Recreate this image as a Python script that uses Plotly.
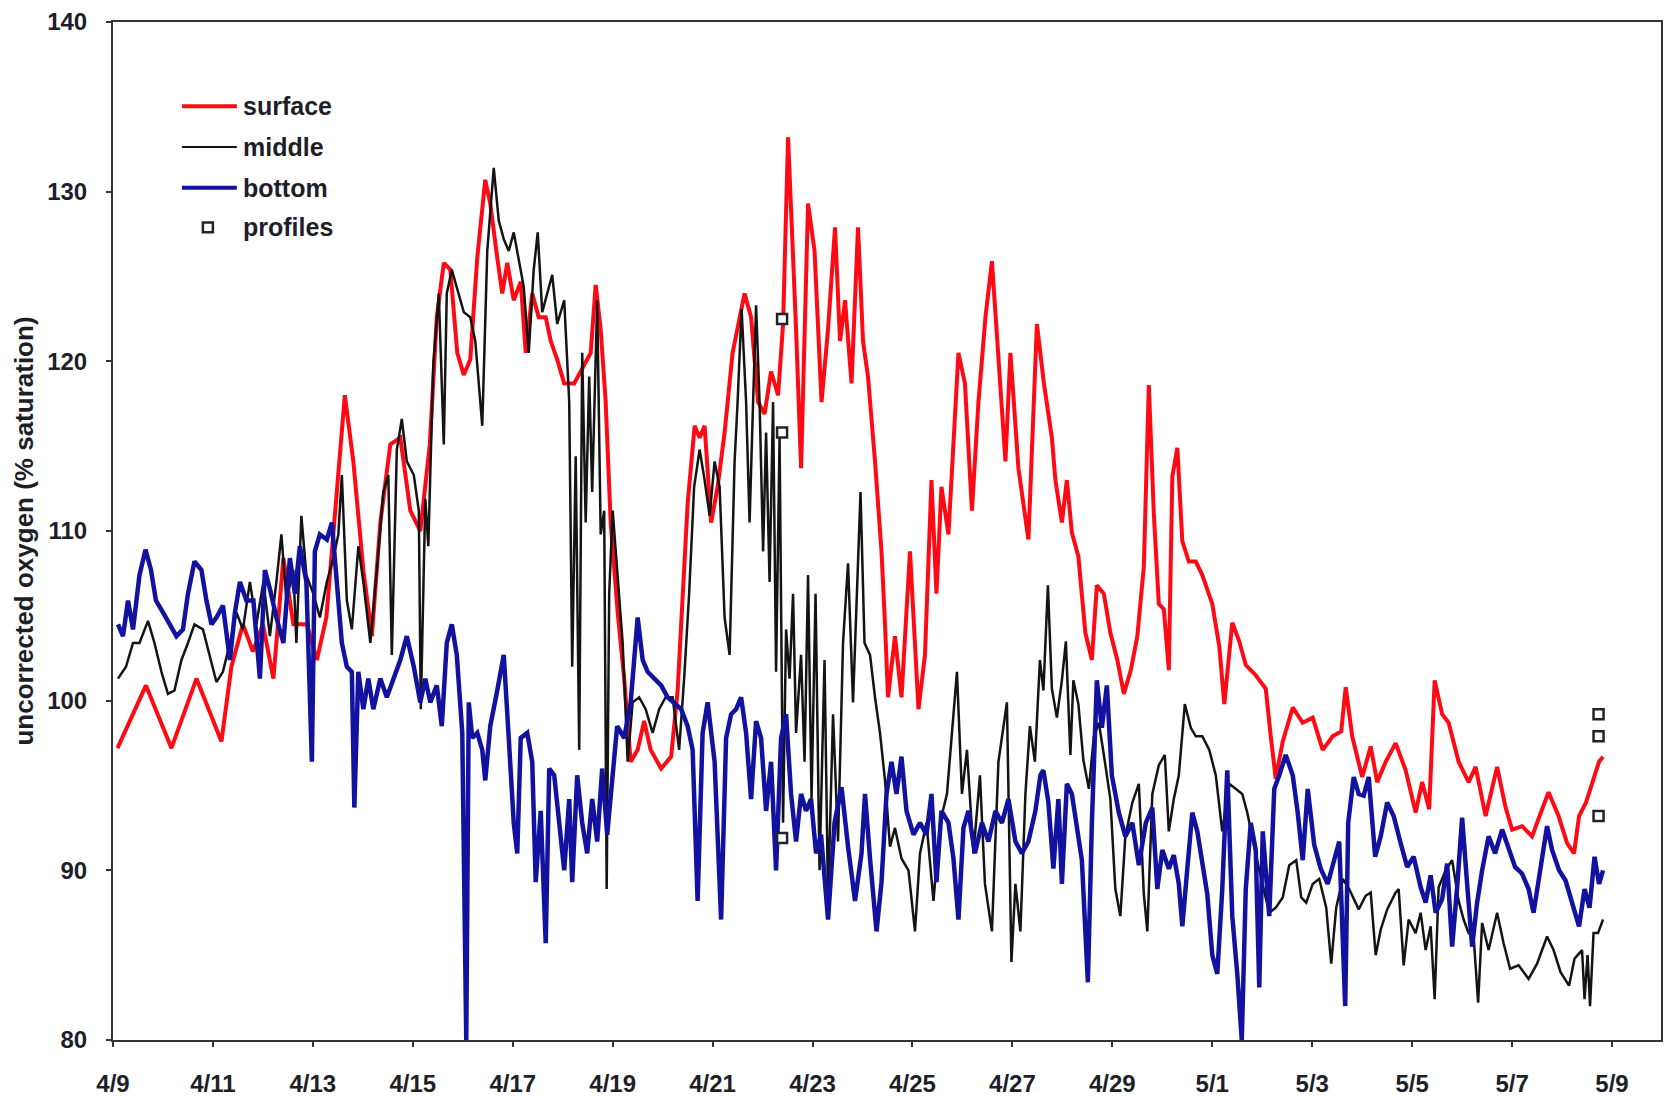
import pandas as pd
import plotly.graph_objects as go

# Time is given in days elapsed since 4/9 00:00; values are % saturation.
surface_days = [
    0.09, 0.66, 1.17, 1.67, 2.17, 2.37, 2.60, 2.80, 3.00, 3.21, 3.41, 3.61, 3.88, 4.08, 4.27, 4.48,
    4.64, 4.81, 5.01, 5.18, 5.35, 5.55, 5.75, 5.95, 6.15, 6.34, 6.48, 6.62, 6.75, 6.89, 7.02, 7.15,
    7.29, 7.45, 7.55, 7.69, 7.79, 7.89, 8.02, 8.16, 8.26, 8.39, 8.52, 8.66, 8.76, 8.89, 9.03, 9.23,
    9.43, 9.56, 9.66, 9.76, 9.86, 9.96, 10.10, 10.23, 10.36, 10.50, 10.63, 10.76, 10.97, 11.17,
    11.30, 11.40, 11.50, 11.64, 11.74, 11.84, 11.97, 12.10, 12.24, 12.40, 12.50, 12.64, 12.77,
    12.91, 13.04, 13.17, 13.31, 13.41, 13.51, 13.61, 13.67, 13.77, 13.91, 14.04, 14.18, 14.31,
    14.45, 14.55, 14.65, 14.78, 14.91, 15.01, 15.11, 15.25, 15.38, 15.45, 15.51, 15.65, 15.78,
    15.95, 16.12, 16.25, 16.38, 16.48, 16.58, 16.72, 16.92, 17.05, 17.19, 17.32, 17.46, 17.59,
    17.72, 17.86, 17.96, 18.12, 18.32, 18.49, 18.63, 18.79, 18.86, 18.99, 19.09, 19.19, 19.32,
    19.46, 19.59, 19.69, 19.83, 19.96, 20.10, 20.23, 20.37, 20.50, 20.63, 20.73, 20.83, 20.93,
    21.03, 21.13, 21.20, 21.30, 21.40, 21.53, 21.67, 21.80, 22.00, 22.14, 22.24, 22.40, 22.54,
    22.67, 22.87, 23.07, 23.17, 23.27, 23.41, 23.61, 23.81, 24.01, 24.21, 24.41, 24.58, 24.67,
    24.80, 25.00, 25.17, 25.30, 25.47, 25.67, 25.87, 26.07, 26.20, 26.34, 26.45, 26.60, 26.73,
    26.93, 27.13, 27.27, 27.47, 27.70, 27.87, 28.00, 28.20, 28.40, 28.60, 28.73, 28.93, 29.10,
    29.24, 29.34, 29.48, 29.61, 29.74, 29.82,
]
surface_vals = [
    97.2, 100.9, 97.2, 101.3, 97.6, 102.0, 104.5, 102.9, 104.5, 101.3, 108.4, 104.5, 104.5, 102.4, 104.9, 112.3,
    118.0, 114.1, 107.7, 103.8, 110.5, 115.1, 115.5, 111.2, 110.0, 115.1, 122.6, 125.8, 125.4, 120.5, 119.2, 120.1,
    126.1, 130.7, 129.3, 126.1, 124.0, 125.8, 123.6, 124.7, 120.5, 124.0, 122.6, 122.6, 121.2, 120.1, 118.7, 118.7,
    119.8, 120.5, 124.5, 121.9, 117.6, 110.5, 105.2, 101.3, 96.4, 97.1, 98.8, 97.1, 96.0, 96.7,
    100.6, 105.9, 111.6, 116.2, 115.5, 116.2, 110.5, 112.6, 115.8, 120.5, 121.9, 124.0, 122.6,
    117.6, 116.9, 119.4, 118.0, 122.2, 133.2, 126.5, 121.9, 113.7, 129.3, 126.5, 117.6, 121.9,
    127.9, 121.2, 123.6, 118.7, 127.9, 121.2, 119.1, 114.1, 108.8, 104.5, 100.2, 103.8, 100.2,
    108.8, 99.5, 102.7, 113.0, 106.3, 112.6, 109.8, 120.5, 118.7, 111.2, 117.6, 122.6, 125.9,
    120.5, 114.1, 120.5, 113.7, 109.5, 122.2, 118.7, 115.5, 113.0, 110.5, 113.0, 109.9, 108.5,
    104.0, 102.4, 106.8, 106.3, 104.0, 102.4, 100.4, 101.8, 103.8, 107.9, 118.6, 111.0, 105.7,
    105.4, 101.8, 113.2, 114.9, 109.4, 108.2, 108.2, 107.4, 105.7, 103.2, 99.8, 104.6, 103.5,
    102.1, 101.5, 100.7, 97.9, 95.4, 97.6, 99.6, 98.7, 99.0, 97.1, 97.9, 98.2, 100.8,
    97.9, 95.5, 97.3, 95.2, 96.4, 97.5, 95.9, 93.4, 95.2, 93.6, 101.2, 99.2, 98.7,
    96.4, 95.2, 96.1, 93.2, 96.1, 93.7, 92.4, 92.6, 92.0, 93.6, 94.6, 93.2, 91.6,
    91.0, 93.2, 94.0, 95.2, 96.4, 96.7,
]

middle_days = [
    0.10, 0.26, 0.40, 0.53, 0.70, 0.83, 0.97, 1.10, 1.23, 1.37, 1.50, 1.63, 1.80, 1.93, 2.07, 2.20,
    2.34, 2.47, 2.60, 2.74, 2.87, 3.01, 3.14, 3.27, 3.37, 3.47, 3.61, 3.67, 3.77, 3.87, 4.01, 4.14,
    4.28, 4.41, 4.51, 4.58, 4.68, 4.78, 4.91, 5.01, 5.15, 5.28, 5.41, 5.51, 5.58, 5.68, 5.78, 5.88,
    6.02, 6.12, 6.16, 6.25, 6.31, 6.41, 6.52, 6.62, 6.68, 6.78, 6.88, 7.02, 7.15, 7.25, 7.39, 7.49,
    7.62, 7.72, 7.82, 7.92, 8.02, 8.12, 8.22, 8.32, 8.42, 8.50, 8.59, 8.69, 8.79, 8.89, 9.03, 9.13,
    9.19, 9.26, 9.33, 9.39, 9.46, 9.53, 9.59, 9.69, 9.76, 9.83, 9.88, 9.93, 10.00, 10.09, 10.20,
    10.30, 10.40, 10.53, 10.66, 10.80, 10.93, 11.06, 11.20, 11.33, 11.43, 11.53, 11.63, 11.74,
    11.84, 11.94, 12.04, 12.14, 12.24, 12.34, 12.44, 12.50, 12.58, 12.67, 12.74, 12.81, 12.87,
    12.94, 13.01, 13.07, 13.14, 13.21, 13.27, 13.34, 13.41, 13.47, 13.54, 13.61, 13.67, 13.77,
    13.84, 13.91, 13.98, 14.06, 14.14, 14.24, 14.31, 14.41, 14.51, 14.61, 14.71, 14.81, 14.88,
    14.96, 15.04, 15.15, 15.25, 15.35, 15.45, 15.55, 15.65, 15.78, 15.92, 16.05, 16.15, 16.28,
    16.42, 16.55, 16.69, 16.79, 16.89, 16.99, 17.09, 17.22, 17.35, 17.45, 17.59, 17.72, 17.82,
    17.89, 17.98, 18.06, 18.16, 18.26, 18.35, 18.45, 18.55, 18.62, 18.71, 18.79, 18.89, 18.99,
    19.07, 19.16, 19.22, 19.32, 19.42, 19.53, 19.63, 19.73, 19.83, 19.96, 20.06, 20.16, 20.26,
    20.40, 20.53, 20.63, 20.70, 20.80, 20.93, 21.05, 21.13, 21.23, 21.33, 21.45, 21.57, 21.67,
    21.80, 21.94, 22.07, 22.20, 22.34, 22.47, 22.60, 22.70, 22.80, 22.94, 23.14, 23.27, 23.41,
    23.54, 23.68, 23.78, 23.88, 24.01, 24.14, 24.28, 24.38, 24.48, 24.61, 24.74, 24.93, 25.07,
    25.17, 25.27, 25.37, 25.50, 25.67, 25.73, 25.83, 25.93, 26.07, 26.17, 26.27, 26.37, 26.45,
    26.53, 26.67, 26.80, 26.93, 27.03, 27.13, 27.23, 27.32, 27.40, 27.53, 27.70, 27.83, 27.96,
    28.13, 28.33, 28.50, 28.70, 28.83, 28.97, 29.14, 29.25, 29.40, 29.45, 29.51, 29.56, 29.63,
    29.72, 29.82,
]
middle_vals = [
    101.3, 102.0, 103.4, 103.4, 104.7, 103.4, 101.7, 100.4, 100.6, 102.4, 103.4, 104.5, 104.2, 102.7, 101.1, 101.7,
    103.4, 105.2, 104.2, 107.0, 104.5, 107.0, 103.8, 107.0, 109.8, 105.9, 107.7, 103.4, 110.9, 107.4, 106.3, 104.9,
    107.0, 108.4, 109.8, 113.3, 105.9, 104.2, 109.1, 107.0, 103.4, 107.7, 112.3, 113.3, 102.7, 114.8, 116.6, 114.1,
    113.3, 111.2, 99.5, 111.9, 109.1, 119.8, 124.0, 115.1, 124.0, 125.4, 124.4, 122.9, 122.6, 121.2, 116.2, 126.5,
    131.4, 128.3, 127.2, 126.5, 127.6, 126.1, 124.4, 120.5, 125.4, 127.6, 122.9, 124.0, 125.1, 122.2, 123.6, 117.6,
    102.0, 114.4, 97.1, 120.5, 110.5, 119.1, 112.3, 123.6, 109.8, 111.2, 88.9, 106.3, 111.2, 107.7, 103.4,
    96.4, 99.9, 100.2, 99.5, 98.1, 99.5, 100.2, 100.2, 97.1, 101.3, 106.3, 112.6, 114.8,
    113.0, 110.9, 114.1, 112.6, 104.9, 102.7, 114.1, 117.6, 123.1, 117.6, 110.5, 117.6, 123.3,
    117.6, 108.8, 115.8, 107.0, 117.6, 101.7, 115.5, 92.8, 104.2, 101.3, 106.3, 98.1, 102.7,
    96.4, 107.4, 94.2, 106.3, 90.0, 102.4, 88.2, 99.2, 91.7, 103.4, 108.1, 99.9, 105.9,
    112.3, 103.4, 102.7, 100.2, 98.1, 95.3, 91.4, 92.5, 90.7, 90.0, 86.4, 91.0, 92.8,
    88.2, 92.8, 94.5, 98.1, 101.7, 94.5, 97.1, 91.0, 95.6, 89.2, 86.4, 96.4, 98.5,
    99.9, 84.6, 89.2, 86.4, 94.5, 98.5, 96.4, 102.4, 100.6, 106.8, 100.7, 99.0, 101.2,
    103.5, 96.8, 101.2, 99.8, 96.5, 94.8, 97.9, 98.7, 96.8, 94.2, 88.9, 87.3, 92.0,
    94.0, 95.1, 88.6, 86.4, 94.5, 96.2, 96.8, 92.3, 94.2, 95.6, 99.8, 98.4, 97.9,
    97.9, 97.1, 95.6, 92.3, 95.1, 94.8, 94.5, 93.4, 92.0, 90.0, 87.5, 87.8, 88.4,
    90.3, 90.6, 88.4, 88.1, 89.2, 89.5, 87.8, 84.5, 87.8, 89.5, 88.9, 87.7, 88.5,
    88.7, 85.0, 86.5, 87.7, 88.7, 88.9, 84.4, 87.1, 86.3, 87.5, 85.3, 86.7, 82.4,
    89.0, 90.0, 90.6, 88.2, 87.1, 86.3, 86.1, 82.2, 86.9, 85.3, 87.5, 85.7, 84.2,
    84.4, 83.6, 84.5, 86.1, 85.3, 84.0, 83.2, 84.8, 85.3, 82.4, 85.0, 82.0, 86.3,
    86.3, 87.1,
]

bottom_days = [
    0.10, 0.20, 0.30, 0.40, 0.53, 0.65, 0.76, 0.86, 1.00, 1.13, 1.27, 1.40, 1.50, 1.63, 1.77, 1.87,
    1.97, 2.07, 2.20, 2.34, 2.44, 2.54, 2.67, 2.81, 2.94, 3.04, 3.14, 3.27, 3.41, 3.54, 3.64, 3.74,
    3.87, 3.98, 4.04, 4.14, 4.28, 4.38, 4.48, 4.58, 4.68, 4.78, 4.83, 4.91, 5.01, 5.11, 5.21, 5.35,
    5.48, 5.61, 5.75, 5.88, 6.02, 6.15, 6.25, 6.35, 6.48, 6.58, 6.68, 6.78, 6.88, 6.99, 7.03, 7.07,
    7.12, 7.19, 7.29, 7.39, 7.45, 7.55, 7.69, 7.82, 7.92, 8.02, 8.09, 8.16, 8.29, 8.39, 8.46, 8.56,
    8.66, 8.73, 8.83, 8.93, 9.03, 9.13, 9.19, 9.29, 9.39, 9.49, 9.59, 9.69, 9.79, 9.89, 9.99, 10.09,
    10.23, 10.36, 10.50, 10.60, 10.70, 10.83, 10.97, 11.10, 11.23, 11.37, 11.50, 11.60, 11.70,
    11.80, 11.90, 12.04, 12.17, 12.27, 12.37, 12.47, 12.57, 12.67, 12.77, 12.87, 12.97, 13.07,
    13.17, 13.27, 13.37, 13.47, 13.57, 13.67, 13.77, 13.87, 13.97, 14.07, 14.17, 14.31, 14.44,
    14.58, 14.71, 14.85, 14.98, 15.05, 15.15, 15.28, 15.38, 15.48, 15.58, 15.68, 15.78, 15.88,
    16.02, 16.15, 16.28, 16.38, 16.48, 16.58, 16.72, 16.82, 16.92, 17.02, 17.12, 17.25, 17.39,
    17.52, 17.66, 17.79, 17.92, 18.06, 18.19, 18.32, 18.46, 18.56, 18.62, 18.72, 18.82, 18.92,
    18.99, 19.09, 19.19, 19.29, 19.39, 19.51, 19.59, 19.69, 19.79, 19.89, 19.99, 20.13, 20.26,
    20.40, 20.53, 20.67, 20.80, 20.90, 21.00, 21.13, 21.23, 21.33, 21.40, 21.50, 21.60, 21.70,
    21.80, 21.90, 22.00, 22.10, 22.20, 22.30, 22.40, 22.50, 22.59, 22.67, 22.77, 22.87, 22.94,
    23.01, 23.14, 23.24, 23.34, 23.47, 23.61, 23.71, 23.81, 23.91, 24.04, 24.17, 24.31, 24.44,
    24.54, 24.66, 24.72, 24.83, 24.93, 25.03, 25.13, 25.26, 25.37, 25.50, 25.63, 25.77, 25.90,
    26.03, 26.17, 26.27, 26.37, 26.47, 26.60, 26.70, 26.80, 26.90, 27.00, 27.10, 27.20, 27.30,
    27.40, 27.53, 27.66, 27.80, 27.93, 28.06, 28.20, 28.33, 28.43, 28.57, 28.70, 28.80, 28.94,
    29.07, 29.20, 29.34, 29.45, 29.55, 29.65, 29.74, 29.82,
]
bottom_vals = [
    104.5, 103.8, 105.9, 104.2, 107.4, 108.9, 107.7, 105.9, 105.2, 104.5, 103.8, 104.2, 106.3, 108.2, 107.7, 105.9,
    104.5, 104.9, 105.6, 102.4, 105.2, 107.0, 105.9, 105.9, 101.3, 107.7, 106.6, 104.9, 103.4, 108.4, 106.3, 109.1,
    107.0, 96.4, 108.8, 109.8, 109.5, 110.5, 107.0, 103.4, 102.0, 101.7, 93.7, 101.7, 99.5, 101.3, 99.5, 101.3,
    100.2, 101.3, 102.4, 103.8, 102.0, 99.9, 101.3, 99.9, 100.9, 98.5, 103.4, 104.5, 102.7, 98.1, 86.4, 80.0,
    99.9, 97.8, 98.1, 97.1, 95.3, 98.5, 100.6, 102.7, 97.8, 92.8, 91.0, 97.8, 98.1, 96.4, 89.3, 93.5,
    85.7, 96.0, 95.6, 92.8, 90.0, 94.2, 89.3, 95.6, 92.8, 91.0, 94.2, 91.7, 96.0, 92.1, 95.6, 98.5,
    97.8, 99.9, 104.9, 102.4, 101.7, 101.3, 100.9, 100.2, 99.9, 99.5, 98.5, 97.1, 88.2,
    98.1, 99.9, 96.4, 87.1, 97.8, 99.2, 99.5, 100.2, 98.1, 94.2, 98.8, 97.8, 93.5,
    96.4, 90.0, 97.8, 99.2, 94.5, 91.7, 94.5, 93.5, 94.2, 91.0, 92.1, 87.1, 92.8,
    94.9, 91.4, 88.2, 91.0, 94.5, 90.7, 86.4, 89.3, 94.5, 96.4, 94.5, 96.7, 93.5,
    92.1, 92.8, 92.1, 94.5, 89.3, 93.5, 92.8, 90.7, 87.1, 92.5, 93.5, 91.0, 92.8,
    91.7, 93.5, 92.8, 94.2, 91.7, 91.0, 91.7, 93.5, 95.6, 95.9, 94.0, 90.1, 94.2,
    89.2, 95.1, 94.5, 92.3, 90.6, 83.4, 92.8, 101.2, 98.4, 100.9, 95.6, 93.4, 92.0,
    92.8, 90.3, 92.8, 93.7, 88.9, 91.2, 90.1, 90.9, 89.2, 86.7, 90.1, 93.4, 92.3,
    90.6, 88.6, 85.0, 83.9, 88.9, 95.9, 87.3, 83.9, 80.0, 88.9, 92.8, 91.2, 83.1,
    92.3, 87.3, 94.8, 95.6, 96.8, 95.6, 93.4, 90.6, 94.8, 91.5, 90.1, 89.2, 90.6,
    91.7, 82.0, 92.8, 95.5, 94.5, 94.4, 95.5, 90.8, 92.0, 94.0, 93.2, 91.6, 90.2,
    90.8, 89.0, 88.1, 89.7, 87.5, 88.3, 90.4, 85.5, 89.0, 93.1, 89.2, 85.5, 88.1,
    90.0, 92.0, 91.0, 92.4, 91.2, 90.2, 89.8, 88.9, 87.5, 90.0, 92.6, 91.2, 90.0,
    89.4, 88.2, 86.7, 88.9, 87.8, 90.8, 89.2, 90.0,
]

# Vertical profile casts (two casts, three depths each)
profile_days = [13.39, 13.39, 13.39, 29.73, 29.73, 29.73]
profile_vals = [122.5, 115.8, 91.9, 99.2, 97.9, 93.2]

y_ticks = [80, 90, 100, 110, 120, 130, 140]
start = pd.Timestamp("2000-04-09")
x_tick_dates = pd.date_range(start, periods=16, freq="2D")
x_tick_text = [f"{d.month}/{d.day}" for d in x_tick_dates]

RED = "#ff0a14"
BLACK = "#141414"
BLUE = "#1212a0"
TEXT = "#1e1e28"
FONT = "Liberation Sans, Arial, sans-serif"


def to_dates(days):
    return start + pd.to_timedelta(pd.Series(days), unit="D")


fig = go.Figure()
fig.add_trace(go.Scatter(x=to_dates(surface_days), y=surface_vals, mode="lines",
                         name="surface", line=dict(color=RED, width=4)))
fig.add_trace(go.Scatter(x=to_dates(middle_days), y=middle_vals, mode="lines",
                         name="middle", line=dict(color=BLACK, width=2.5)))
fig.add_trace(go.Scatter(x=to_dates(bottom_days), y=bottom_vals, mode="lines",
                         name="bottom", line=dict(color=BLUE, width=4.5)))
fig.add_trace(go.Scatter(x=to_dates(profile_days), y=profile_vals, mode="markers",
                         name="profiles",
                         marker=dict(symbol="square", size=10, color="white",
                                     line=dict(color="#22222c", width=2.5))))

# Plot-area geometry in pixels (used for the hand-built legend)
L, R, T, B = 113, 1663, 22, 1048
W, H = 1666, 1100


def px(xp):
    return (xp - L) / (R - L)


def py(yp):
    return (B - yp) / (B - T)


shapes = []
annotations = []
legend_rows = [("surface", RED, 4, 107), ("middle", BLACK, 2, 148), ("bottom", BLUE, 4, 189)]
for label, color, width, yrow in legend_rows:
    shapes.append(dict(type="line", xref="paper", yref="paper",
                       x0=px(182), x1=px(237), y0=py(yrow), y1=py(yrow),
                       line=dict(color=color, width=width)))
    annotations.append(dict(text=f"<b>{label}</b>", xref="paper", yref="paper",
                            x=px(241), y=py(yrow), xanchor="left", yanchor="middle",
                            showarrow=False, font=dict(size=25, color=TEXT, family=FONT)))
# profiles legend entry
shapes.append(dict(type="rect", xref="paper", yref="paper",
                   x0=px(203), x1=px(213), y0=py(234), y1=py(224),
                   line=dict(color="#22222c", width=2.5), fillcolor="white"))
annotations.append(dict(text="<b>profiles</b>", xref="paper", yref="paper",
                        x=px(241), y=py(229), xanchor="left", yanchor="middle",
                        showarrow=False, font=dict(size=25, color=TEXT, family=FONT)))

fig.update_layout(
    width=W, height=H,
    margin=dict(l=L, r=W - R, t=T, b=H - B),
    paper_bgcolor="white", plot_bgcolor="white",
    showlegend=False,
    shapes=shapes, annotations=annotations,
    font=dict(family=FONT, color=TEXT),
)
fig.update_xaxes(
    range=[start, start + pd.Timedelta(days=30.98)],
    tickmode="array", tickvals=x_tick_dates, ticktext=[f"<b>{t}</b>" for t in x_tick_text],
    tickfont=dict(size=24, family=FONT, color=TEXT),
    ticks="outside", ticklen=5, tickwidth=1.5, tickcolor="#333",
    ticklabelstandoff=16,
    showgrid=False, zeroline=False,
    showline=True, linecolor="#333", linewidth=2, mirror=True,
)
fig.update_yaxes(
    range=[80, 140],
    tickmode="array", tickvals=y_ticks, ticktext=[f"<b>{v}</b>" for v in y_ticks],
    tickfont=dict(size=24, family=FONT, color=TEXT),
    ticks="outside", ticklen=5, tickwidth=1.5, tickcolor="#333",
    ticklabelstandoff=14,
    showgrid=False, zeroline=False,
    showline=True, linecolor="#333", linewidth=2, mirror=True,
    title=dict(text="<b>uncorrected oxygen (% saturation)</b>",
               font=dict(size=26, family=FONT, color=TEXT), standoff=6),
)

fig.write_html("out.html")
